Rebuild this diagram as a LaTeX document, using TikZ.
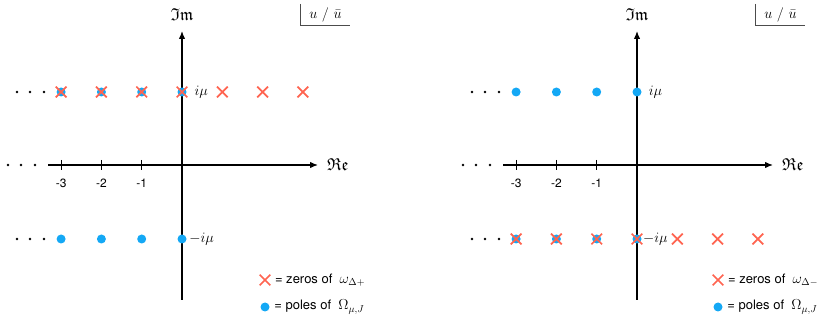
\documentclass[tikz,border=0pt]{standalone}
\usepackage{amsmath,amssymb}
\usepackage{fontspec}
\setsansfont{TeX Gyre Heros}
\usepackage{tikz}
\usetikzlibrary{arrows.meta,positioning,shapes.misc}
\definecolor{zerored}{HTML}{FF6450}
\definecolor{poleblue}{HTML}{14A8F5}
\newcommand{\legmath}[1]{{\fontsize{14.4}{17}\selectfont$#1$}}

\begin{document}
\begin{tikzpicture}[
    x=1pt, y=-1pt,
    font=\fontsize{14.4}{17}\selectfont,
    >={Latex[length=8pt,width=6.5pt]},
    axis/.style={->, line width=1.3pt, draw=black},
    tick/.style={line width=1.1pt, draw=black},
    ticklab/.style={font=\sffamily\fontsize{12}{14}\selectfont, inner sep=0pt},
    pole/.style={circle, fill=poleblue, minimum size=9pt, inner sep=0pt},
    zero/.style={cross out, draw=zerored, line width=1.7pt, minimum size=9pt, inner sep=0pt},
    ell/.style={circle, fill=black, minimum size=2.6pt, inner sep=0pt},
    frak/.style={font=\fontsize{17.28}{20}\selectfont, inner sep=0pt},
    legend/.style={font=\sffamily\fontsize{13}{15}\selectfont, inner sep=0pt},
    varbox/.style={minimum width=49pt, minimum height=21pt, inner sep=0pt},
    boxline/.style={line width=0.9pt, draw=black!70}
]
\useasboundingbox (0,0) rectangle (830,320);

% left panel: zeros of omega_{Delta+}
\coordinate (lre0) at (48,165);
\coordinate (lre1) at (318,165);
\coordinate (lim0) at (182,300);
\coordinate (lim1) at (182,31);
\draw[axis] (lre0) -- (lre1);
\draw[axis] (lim0) -- (lim1);
\node[frak] (lim) at (182,15) {$\mathfrak{Im}$};
\node[frak, right=9pt of lre1] (lre) {$\mathfrak{Re}$};
\foreach \k in {1,2,3} {
    \draw[tick] (182-40.3*\k,160) -- (182-40.3*\k,170);
    \node[ticklab] (ltick\k) at (182-40.3*\k,183) {-\k};
}
\foreach \x [count=\i] in {17,30,44} {
    \node[ell] (ldu\i) at (\x,92) {};
    \node[ell] (ldm\i) at (\x-9,165) {};
    \node[ell] (ldd\i) at (\x,239) {};
}
\foreach \k [count=\i] in {-3,...,0} {
    \node[pole] (lpu\i) at (182+40.3*\k,92) {};
    \node[pole] (lpd\i) at (182+40.3*\k,239) {};
}
\foreach \k [count=\i] in {-3,...,3}
    \node[zero] (lzu\i) at (182+40.3*\k,92) {};
\node[right=7pt of lzu4, inner sep=0pt] (limu) {$i\mu$};
\node[right=2.5pt of lpd4, inner sep=0pt] (limd) {$-i\mu$};

\node[zero] (lkz) at (265,280) {};
\node[legend, right=4.5pt of lkz] (lkzt) {= zeros of \ \legmath{\omega_{\Delta+}}};
\node[pole] (lkp) at (265,307) {};
\node[legend, right=4.5pt of lkp] (lkpt) {= poles of \ \legmath{\Omega_{\mu,J}}};

\node[varbox] (lvar) at (325.5,14.5) {$u\ /\ \bar u$};
\draw[boxline] (lvar.north west) |- (lvar.south east);

% right panel: zeros of omega_{Delta-}
\begin{scope}[xshift=455pt]
\coordinate (rre0) at (48,165);
\coordinate (rre1) at (318,165);
\coordinate (rim0) at (182,300);
\coordinate (rim1) at (182,31);
\draw[axis] (rre0) -- (rre1);
\draw[axis] (rim0) -- (rim1);
\node[frak] (rim) at (182,15) {$\mathfrak{Im}$};
\node[frak, right=9pt of rre1] (rre) {$\mathfrak{Re}$};
\foreach \k in {1,2,3} {
    \draw[tick] (182-40.3*\k,160) -- (182-40.3*\k,170);
    \node[ticklab] (rtick\k) at (182-40.3*\k,183) {-\k};
}
\foreach \x [count=\i] in {17,30,44} {
    \node[ell] (rdu\i) at (\x,92) {};
    \node[ell] (rdm\i) at (\x-9,165) {};
    \node[ell] (rdd\i) at (\x,239) {};
}
\foreach \k [count=\i] in {-3,...,0} {
    \node[pole] (rpu\i) at (182+40.3*\k,92) {};
    \node[pole] (rpd\i) at (182+40.3*\k,239) {};
}
\foreach \k [count=\i] in {-3,...,3}
    \node[zero] (rzd\i) at (182+40.3*\k,239) {};
\node[right=7pt of rpu4, inner sep=0pt] (rimu) {$i\mu$};
\node[right=0.5pt of rzd4, inner sep=0pt] (rimd) {$-i\mu$};

\node[zero] (rkz) at (263,280) {};
\node[legend, right=4.5pt of rkz] (rkzt) {= zeros of \ \legmath{\omega_{\Delta-}}};
\node[pole] (rkp) at (263,307) {};
\node[legend, right=4.5pt of rkp] (rkpt) {= poles of \ \legmath{\Omega_{\mu,J}}};

\node[varbox] (rvar) at (325.5,14.5) {$u\ /\ \bar u$};
\draw[boxline] (rvar.north west) |- (rvar.south east);
\end{scope}
\end{tikzpicture}
\end{document}
